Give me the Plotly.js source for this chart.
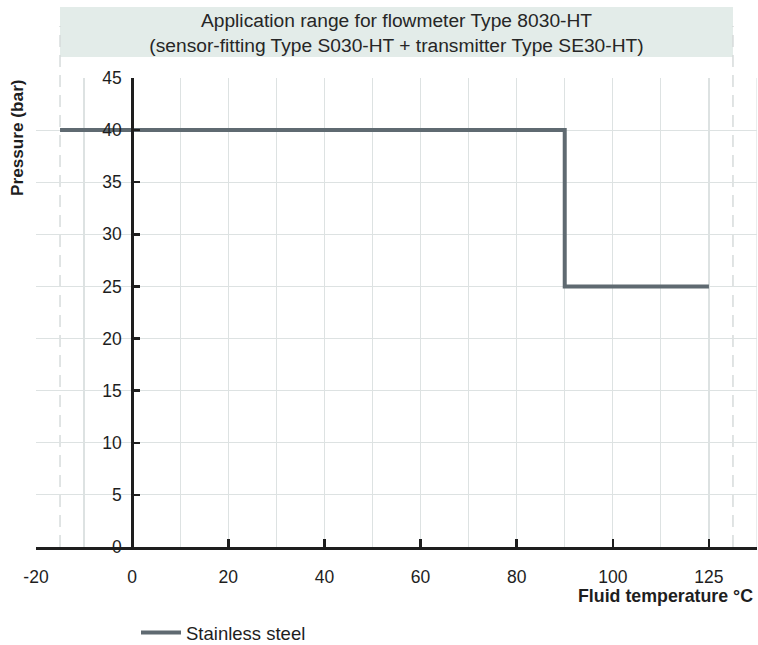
<!DOCTYPE html>
<html>
<head>
<meta charset="utf-8">
<script src="https://cdn.plot.ly/plotly-3.0.1.min.js"></script>
<style>html,body{margin:0;padding:0;background:#fff;}#chart{width:758px;height:645px;}</style>
</head>
<body>
<div id="chart"></div>
<script>
// Data
const seriesName = 'Stainless steel';
const tempC = [-15, 90, 125];          // fluid temperature °C (step points)
const pressureBar = [40, 25, 25];      // pressure (bar)
const xTickTemps = [-20, 0, 20, 40, 60, 80, 100, 125];
const xTickLabels = ['-20', '0', '20', '40', '60', '80', '100', '125'];
const yTickVals = [0, 5, 10, 15, 20, 25, 30, 35, 40, 45];
const yTickLabels = ['0', '5', '10', '15', '20', '25', '30', '35', '40', '45'];
const titleLines = ['Application range for flowmeter Type 8030-HT',
                    '(sensor-fitting Type S030-HT + transmitter Type SE30-HT)'];

// The reference axis is compressed above 100 °C (125 sits one 20-step after 100)
function axisPos(t) { return t <= 100 ? t : 100 + (t - 100) * 0.8; }

const FONT = 'Liberation Sans, Arial, Helvetica, sans-serif';
const INK = '#1e1e1e';
const GRID = '#dde2e2';

const trace = {
  x: tempC.map(axisPos),
  y: pressureBar,
  type: 'scatter',
  mode: 'lines',
  line: { color: '#5f6a71', width: 4, shape: 'hv' },
  name: seriesName,
  showlegend: true,
  hoverinfo: 'skip'
};

const layout = {
  width: 758, height: 645,
  margin: { l: 36, r: 1, t: 78, b: 98 },
  paper_bgcolor: '#ffffff', plot_bgcolor: '#ffffff',
  font: { family: FONT, size: 17.5, color: INK },
  title: {
    text: titleLines.join('<br>'),
    font: { family: FONT, size: 19.2, color: '#262626' },
    x: 0.5, xref: 'paper', xanchor: 'center',
    y: 1 - 27 / 645, yref: 'container', yanchor: 'middle'
  },
  xaxis: {
    range: [-20, 130], fixedrange: true,
    tickmode: 'array',
    tickvals: xTickTemps.map(axisPos),
    ticktext: xTickLabels,
    ticks: 'inside', ticklen: 8, tickwidth: 2.5, tickcolor: INK,
    ticklabelstandoff: 12,
    showline: true, linecolor: INK, linewidth: 2.5,
    showgrid: true, gridcolor: GRID, gridwidth: 1.2,
    zeroline: false,
    tickfont: { family: FONT, size: 17.5, color: INK },
    minor: { tickmode: 'linear', tick0: 0, dtick: 10, showgrid: true, gridcolor: GRID, gridwidth: 1.2, ticks: '' }
  },
  yaxis: {
    range: [0, 45], fixedrange: true,
    anchor: 'free', position: 20 / 150, side: 'left',
    tickmode: 'array', tickvals: yTickVals, ticktext: yTickLabels,
    ticks: 'inside', ticklen: 6, tickwidth: 2.5, tickcolor: INK,
    ticklabelstandoff: 6,
    showline: true, linecolor: INK, linewidth: 2.5,
    showgrid: true, gridcolor: GRID, gridwidth: 1.2,
    zeroline: false,
    tickfont: { family: FONT, size: 17.5, color: INK }
  },
  showlegend: true,
  legend: {
    orientation: 'h', x: (144 - 36 - 8) / 721, xanchor: 'left',
    yref: 'container', y: 12 / 645, yanchor: 'middle',
    font: { family: FONT, size: 18.5, color: INK },
    itemwidth: 40, bgcolor: 'rgba(0,0,0,0)'
  },
  shapes: [
    { type: 'rect', xref: 'x', yref: 'paper', x0: -15, x1: 125,
      y0: (547 - 57) / 469, y1: (547 - 7) / 469,
      fillcolor: '#e3ece9', line: { width: 0 }, layer: 'below' },
    { type: 'line', xref: 'x', yref: 'paper', x0: -15, x1: -15,
      y0: 0, y1: (547 - 26) / 469, line: { color: '#d6dbdb', width: 1.5, dash: '12px,8px' }, layer: 'below' },
    { type: 'line', xref: 'x', yref: 'paper', x0: 125, x1: 125,
      y0: 0, y1: (547 - 26) / 469, line: { color: '#d6dbdb', width: 1.5, dash: '12px,8px' }, layer: 'below' },
    { type: 'line', xref: 'x', yref: 'paper', x0: 130, x1: 130,
      y0: 0, y1: 1, line: { color: GRID, width: 1.2 }, layer: 'below' }
  ],
  annotations: [
    { text: 'Pressure (bar)', xref: 'paper', yref: 'paper',
      x: (17 - 36) / 721, y: (547 - 138) / 469, textangle: -90,
      xanchor: 'center', yanchor: 'middle', showarrow: false,
      font: { family: FONT, size: 17.2, color: INK, weight: 'bold' } },
    { text: 'Fluid temperature °C', xref: 'paper', yref: 'paper',
      x: (755 - 36) / 721, y: (547 - 596) / 469,
      xanchor: 'right', yanchor: 'middle', showarrow: false,
      font: { family: FONT, size: 17.8, color: INK, weight: 'bold' } }
  ]
};

Plotly.newPlot('chart', [trace], layout, { displayModeBar: false, staticPlot: true });
</script>
</body>
</html>
